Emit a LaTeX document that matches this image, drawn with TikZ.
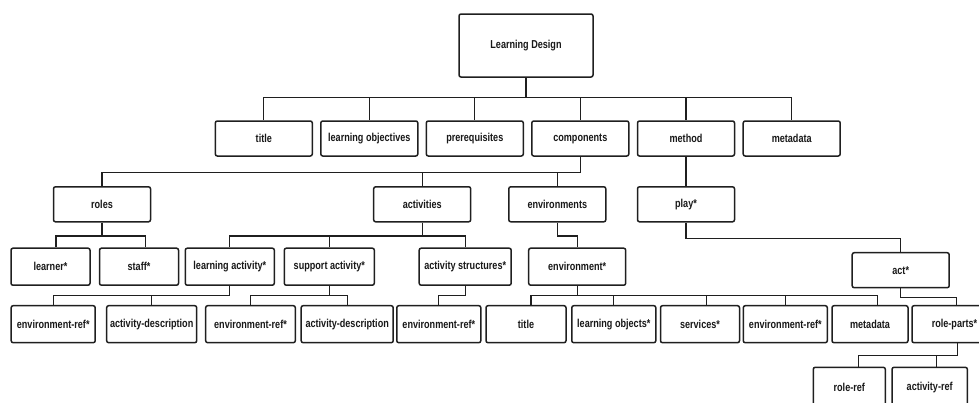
\documentclass[tikz,border=0pt]{standalone}
\usepackage{fontspec}
\setmainfont{Liberation Sans}[FakeStretch=0.79]
\begin{document}
\begin{tikzpicture}[x=1pt,y=-1pt,
  box/.style={draw=black!88, line width=1.5pt, rounded corners=2pt, fill=white,
    inner sep=1pt, minimum height=35pt, text=black!90,
    font=\fontsize{11.5}{13}\selectfont\bfseries},
  tall/.style={minimum height=37pt},
  link/.style={draw=black!88, line width=1.3pt}]
\useasboundingbox (0,0) rectangle (979,402);
\clip (0,0) rectangle (979,402);

% root
\node[box, minimum width=134pt, minimum height=63pt] (ld) at (526,45.5) {Learning Design};

% first level
\node[box, minimum width=97pt] (title) at (263.8,138.5) {title};
\node[box, minimum width=97pt] (lobj) at (369.3,138.5) {learning objectives};
\node[box, minimum width=97pt] (prereq) at (474.8,138.5) {prerequisites};
\node[box, minimum width=97pt] (comp) at (580.3,138.5) {components};
\node[box, minimum width=97pt] (method) at (686,138.5) {method};
\node[box, minimum width=97pt] (meta) at (791.7,138.5) {metadata};

% second level
\node[box, minimum width=97pt] (roles) at (102,204.3) {roles};
\node[box, minimum width=97pt] (acts) at (422.2,204.3) {activities};
\node[box, minimum width=97pt] (envs) at (557.3,204.3) {environments};
\node[box, minimum width=97pt] (play) at (686,204.3) {play*};

% third level
\node[box, tall, minimum width=79pt] (learner) at (50.5,266.7) {learner*};
\node[box, tall, minimum width=79pt] (staff) at (139,266.7) {staff*};
\node[box, tall, minimum width=89pt] (lact) at (229.8,266.7) {learning activity*};
\node[box, tall, minimum width=90pt] (sact) at (329.3,266.7) {support activity*};
\node[box, tall, minimum width=92pt] (astr) at (465.2,266.7) {activity structures*};
\node[box, tall, minimum width=97pt] (env) at (577.2,266.7) {environment*};
\node[box, minimum width=97pt] (act) at (900.7,270.2) {act*};

% fourth level
\node[box, tall, minimum width=84pt] (erA) at (53.2,324.2) {environment-ref*};
\node[box, tall, minimum width=90pt] (adA) at (151.7,324.2) {activity-description};
\node[box, tall, minimum width=89.6pt] (erB) at (250.5,324.2) {environment-ref*};
\node[box, tall, minimum width=92pt] (adB) at (347.2,324.2) {activity-description};
\node[box, tall, minimum width=84pt] (erC) at (438.8,324.2) {environment-ref*};
\node[box, tall, minimum width=80pt] (etitle) at (526,324.2) {title};
\node[box, tall, minimum width=84pt] (elo) at (613.8,324.2) {learning objects*};
\node[box, tall, minimum width=79pt] (serv) at (700,324.2) {services*};
\node[box, tall, minimum width=84pt] (erD) at (785.3,324.2) {environment-ref*};
\node[box, tall, minimum width=76pt] (emeta) at (870,324.2) {metadata};
\node[box, tall, minimum width=85pt] (rparts) at (954.5,324.2) {role-parts*};

% fifth level
\node[box, minimum width=72pt, minimum height=40pt] (rref) at (849.3,387.3) {role-ref};
\node[box, minimum width=75.3pt, minimum height=40pt] (aref) at (929.7,387.3) {activity-ref};

% connectors
\foreach \c in {title,lobj,prereq,comp,method,meta}
  \draw[link] (ld.south) -- ++(0,20) -| (\c.north);

\foreach \c in {roles,acts,envs}
  \draw[link] (comp.south) -- ++(0,15.7) -| (\c.north);

\draw[link] (method.south) -- (play.north);

\draw[link] (roles.south) -- ++(0,13.3) -| ([xshift=5.5pt]learner.north);
\draw[link] (roles.south) -- ++(0,13.3) -| ([xshift=6.3pt]staff.north);

\foreach \c in {lact,sact,astr}
  \draw[link] (acts.south) -- ++(0,13.3) -| (\c.north);

\draw[link] (envs.south) -- ++(0,13.3) -| (env.north);
\draw[link] (play.south) -- ++(0,15.7) -| (act.north);

\draw[link] (lact.south) -- ++(0,9.7) -| (erA.north);
\draw[link] (lact.south) -- ++(0,9.7) -| (adA.north);
\draw[link] (sact.south) -- ++(0,9.7) -| (erB.north);
\draw[link] (sact.south) -- ++(0,9.7) -| (adB.north);
\draw[link] (astr.south) -- ++(0,9.7) -| (erC.north);

\draw[link] (env.south) -- ++(0,9.7) -| ([xshift=5pt]etitle.north);
\draw[link] (env.south) -- ++(0,9.7) -| (elo.north);
\draw[link] (env.south) -- ++(0,9.7) -| ([xshift=6.7pt]serv.north);
\draw[link] (env.south) -- ++(0,9.7) -| (erD.north);
\draw[link] (env.south) -- ++(0,9.7) -| ([xshift=7.3pt]emeta.north);

\draw[link] (act.south) -- ++(0,9) -| ([xshift=2pt]rparts.north);

\draw[link] ([xshift=2.8pt]rparts.south) -- ++(0,12.3) -| ([xshift=9pt]rref.north);
\draw[link] ([xshift=2.8pt]rparts.south) -- ++(0,12.3) -| ([xshift=7pt]aref.north);
\end{tikzpicture}
\end{document}
